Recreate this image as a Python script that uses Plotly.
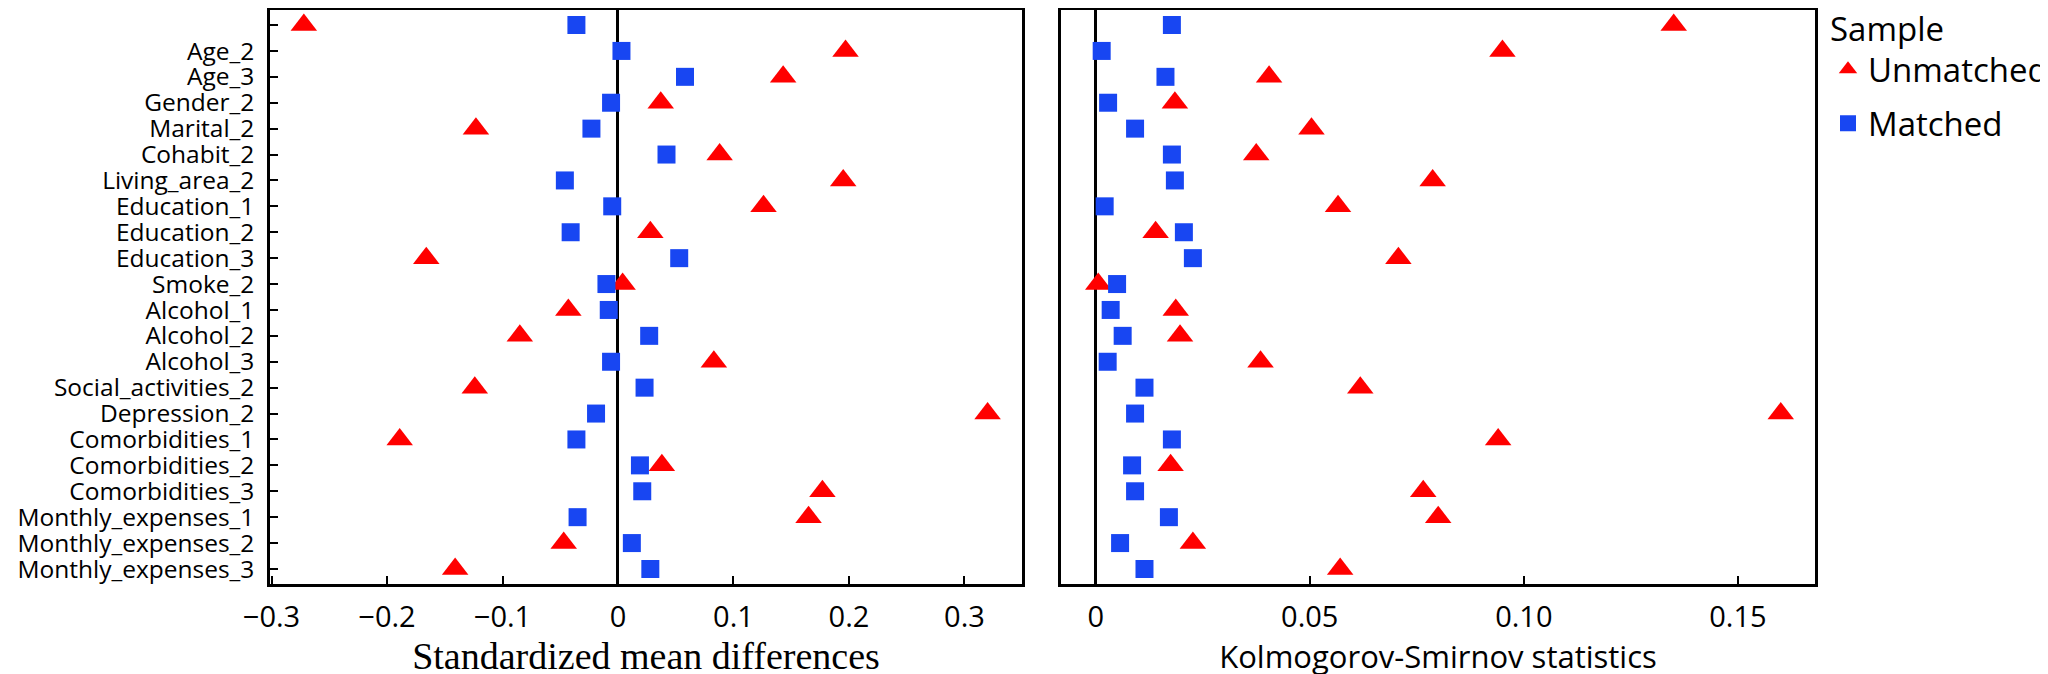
import plotly.graph_objects as go

variables = ["", "Age_2", "Age_3", "Gender_2", "Marital_2", "Cohabit_2", "Living_area_2",
             "Education_1", "Education_2", "Education_3", "Smoke_2", "Alcohol_1", "Alcohol_2",
             "Alcohol_3", "Social_activities_2", "Depression_2", "Comorbidities_1",
             "Comorbidities_2", "Comorbidities_3", "Monthly_expenses_1", "Monthly_expenses_2",
             "Monthly_expenses_3"]

smd_unmatched = [-0.272, 0.197, 0.143, 0.037, -0.123, 0.088, 0.195, 0.126, 0.028, -0.166, 0.004,
                 -0.043, -0.085, 0.083, -0.124, 0.320, -0.189, 0.038, 0.177, 0.165, -0.047, -0.141]
smd_matched = [-0.036, 0.003, 0.058, -0.006, -0.023, 0.042, -0.046, -0.005, -0.041, 0.053, -0.010,
               -0.008, 0.027, -0.006, 0.023, -0.019, -0.036, 0.019, 0.021, -0.035, 0.012, 0.028]
ks_unmatched = [0.135, 0.095, 0.0405, 0.0185, 0.0504, 0.0375, 0.0787, 0.0566, 0.0140, 0.0707, 0.0006,
                0.0187, 0.0197, 0.0385, 0.0618, 0.160, 0.094, 0.0175, 0.0765, 0.0800, 0.0227, 0.0571]
ks_matched = [0.0178, 0.0014, 0.0163, 0.0029, 0.0092, 0.0178, 0.0185, 0.0021, 0.0206, 0.0227, 0.0050,
              0.0035, 0.0063, 0.0028, 0.0114, 0.0092, 0.0178, 0.0085, 0.0092, 0.0171, 0.0057, 0.0114]

smd_tickvals = [-0.3, -0.2, -0.1, 0, 0.1, 0.2, 0.3]
smd_ticktext = ["\u22120.3", "\u22120.2", "\u22120.1", "0", "0.1", "0.2", "0.3"]
ks_tickvals = [0, 0.05, 0.10, 0.15]
ks_ticktext = ["0", "0.05", "0.10", "0.15"]

rows = list(range(len(variables)))

RED = "#FF0000"
BLUE = "#1846F2"
SANS = "Open Sans"
SERIF = "Liberation Serif"

fig = go.Figure()
fig.add_trace(go.Scatter(x=smd_unmatched, y=rows, mode="markers", name="Unmatched",
                         legendgroup="u", marker=dict(symbol="triangle-up", size=23, color=RED),
                         xaxis="x", yaxis="y"))
fig.add_trace(go.Scatter(x=smd_matched, y=rows, mode="markers", name="Matched",
                         legendgroup="m", marker=dict(symbol="square", size=18, color=BLUE),
                         xaxis="x", yaxis="y"))
fig.add_trace(go.Scatter(x=ks_unmatched, y=rows, mode="markers", name="Unmatched",
                         legendgroup="u", showlegend=False,
                         marker=dict(symbol="triangle-up", size=23, color=RED),
                         xaxis="x2", yaxis="y2"))
fig.add_trace(go.Scatter(x=ks_matched, y=rows, mode="markers", name="Matched",
                         legendgroup="m", showlegend=False,
                         marker=dict(symbol="square", size=18, color=BLUE),
                         xaxis="x2", yaxis="y2"))

W, H = 2048, 674
common_x = dict(ticks="inside", ticklen=8, tickwidth=2, tickcolor="black",
                showline=True, mirror=True, linecolor="black", linewidth=2.5,
                zeroline=True, zerolinecolor="black", zerolinewidth=2.5, showgrid=False,
                tickfont=dict(family=SANS, size=29, color="black"), ticklabelstandoff=5)

fig.update_layout(
    width=W, height=H,
    margin=dict(l=0, r=0, t=2, b=98, autoexpand=False),
    paper_bgcolor="white", plot_bgcolor="white",
    xaxis=dict(domain=[262 / W, 1014 / W], range=[-0.3013, 0.3498],
               tickvals=smd_tickvals, ticktext=smd_ticktext,
               title=dict(text="Standardized mean differences",
                          font=dict(family=SERIF, size=38, color="black"), standoff=0),
               **common_x),
    xaxis2=dict(domain=[1053 / W, 1807 / W], range=[-0.0081, 0.168],
                tickvals=ks_tickvals, ticktext=ks_ticktext, anchor="y2",
                title=dict(text="Kolmogorov-Smirnov statistics",
                           font=dict(family=SANS, size=31, color="black"), standoff=0),
                **common_x),
    yaxis=dict(range=[len(variables) - 0.42, -0.58], tickvals=rows, ticktext=variables,
               ticks="inside", ticklen=8, tickwidth=2, tickcolor="black",
               showline=True, mirror=True, linecolor="black", linewidth=2.5,
               showgrid=False, zeroline=False, ticklabelstandoff=8,
               tickfont=dict(family=SANS, size=24.5, color="black")),
    yaxis2=dict(range=[len(variables) - 0.42, -0.58], anchor="x2", matches="y",
                showticklabels=False, ticks="",
                showline=True, mirror=True, linecolor="black", linewidth=2.5,
                showgrid=False, zeroline=False),
    legend=dict(x=1820 / W, xanchor="left", y=1.02, yanchor="top",
                title=dict(text="Sample", font=dict(family=SANS, size=33, color="black")),
                font=dict(family=SANS, size=33, color="black"),
                traceorder="grouped", tracegroupgap=8, bgcolor="rgba(0,0,0,0)",
                itemwidth=30),
    showlegend=True,
)

fig.write_html("out.html")
